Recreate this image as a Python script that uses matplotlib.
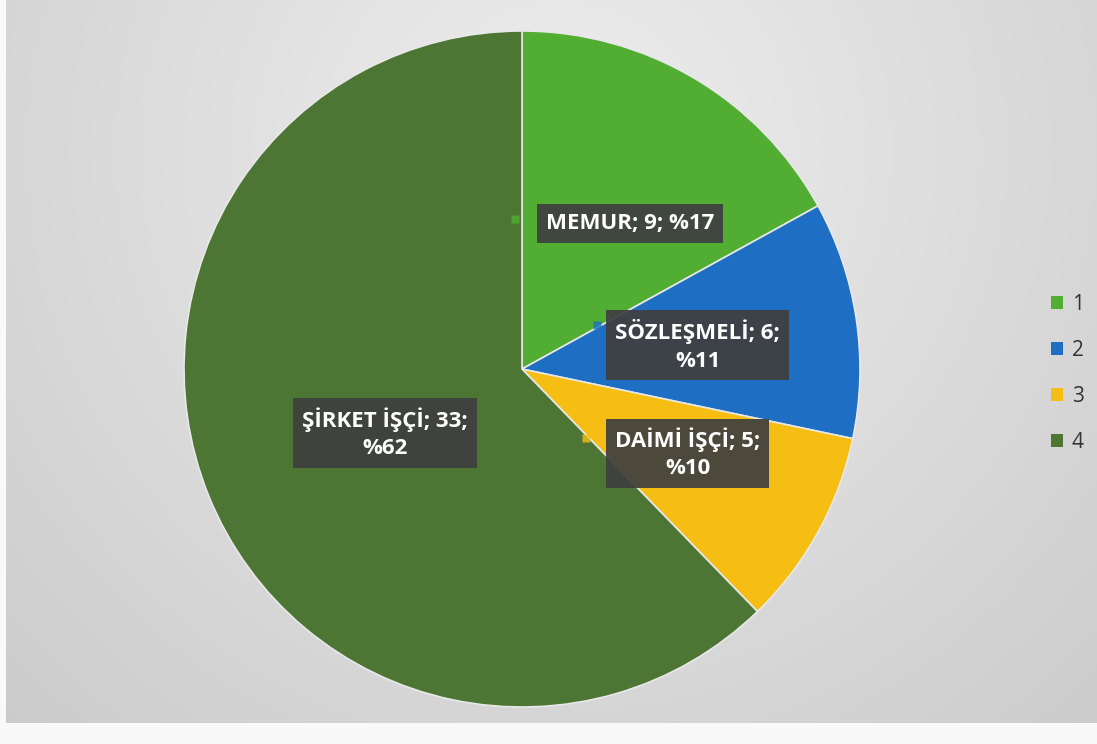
import numpy as np
import matplotlib.pyplot as plt
from matplotlib.patches import Patch

plt.rcParams['font.family'] = ['Open Sans', 'DejaVu Sans']

categories = ["MEMUR", "SÖZLEŞMELİ", "DAİMİ İŞÇİ", "ŞİRKET İŞÇİ"]
counts = [9, 6, 5, 33]
percents = [17, 11, 10, 62]
legend_labels = ["1", "2", "3", "4"]
colors = ["#52AE32", "#1E6FC4", "#F6BD12", "#4D7534"]

W, H = 1097, 744
fig = plt.figure(figsize=(W / 100, H / 100), dpi=100)

# grey gradient chart area
bg = fig.add_axes([0, 0, 1, 1])
yy, xx = np.mgrid[0:H, 0:W]
d = np.sqrt(((xx - 560) / 700.0) ** 2 + ((yy - 150) / 700.0) ** 2)
shade = 0.935 - 0.12 * np.clip(d, 0, 1.2)
shade[yy > 722] = 0.98
shade[xx < 6] = 0.98
img = np.dstack([shade, shade, shade])
bg.imshow(img, extent=[0, W, H, 0], aspect="auto")
bg.set_xlim(0, W)
bg.set_ylim(H, 0)
bg.axis("off")

cx, cy, r = 522, 369, 338
ax = fig.add_axes([(cx - r) / W, (H - cy - r) / H, 2 * r / W, 2 * r / H])
wedges, _ = ax.pie(counts, colors=colors, startangle=90, counterclock=False,
                   radius=1.0,
                   wedgeprops=dict(edgecolor="#e8e8e8", linewidth=1.2))
ax.set_xlim(-1, 1)
ax.set_ylim(-1, 1)
ax.set_aspect("equal")
ax.axis("off")

# data labels and their short leader stubs (pie coordinates)
label_pos = [(0.32, 0.43), (0.52, 0.07), (0.49, -0.25), (-0.405, -0.19)]
stub_pos = [(-0.02, 0.445), (0.222, 0.13), (0.19, -0.205), (None, None)]
label_text = [
    f"{categories[0]}; {counts[0]}; %{percents[0]}",
    f"{categories[1]}; {counts[1]};\n%{percents[1]}",
    f"{categories[2]}; {counts[2]};\n%{percents[2]}",
    f"{categories[3]}; {counts[3]};\n%{percents[3]}",
]
for (x, y), t, (sx, sy), c in zip(label_pos, label_text, stub_pos, colors):
    if sx is not None:
        ax.plot(sx, sy, marker="s", markersize=6, color=c, alpha=0.8,
                markeredgecolor="none")
    ax.text(x, y, t, ha="center", va="center", color="white",
            fontsize=16, fontweight="bold", linespacing=1.4,
            bbox=dict(boxstyle="square,pad=0.4", facecolor="#3f3f3f",
                      edgecolor="none", alpha=0.93))

handles = [Patch(facecolor=c, edgecolor="none") for c in colors]
fig.legend(handles, legend_labels, loc="center left",
           bbox_to_anchor=(1032 / W, 1 - 373 / H), frameon=False,
           fontsize=15, handlelength=0.6, handleheight=0.6,
           labelspacing=1.2, handletextpad=0.4, labelcolor="#333333")

fig.savefig("out.png", dpi=100)
